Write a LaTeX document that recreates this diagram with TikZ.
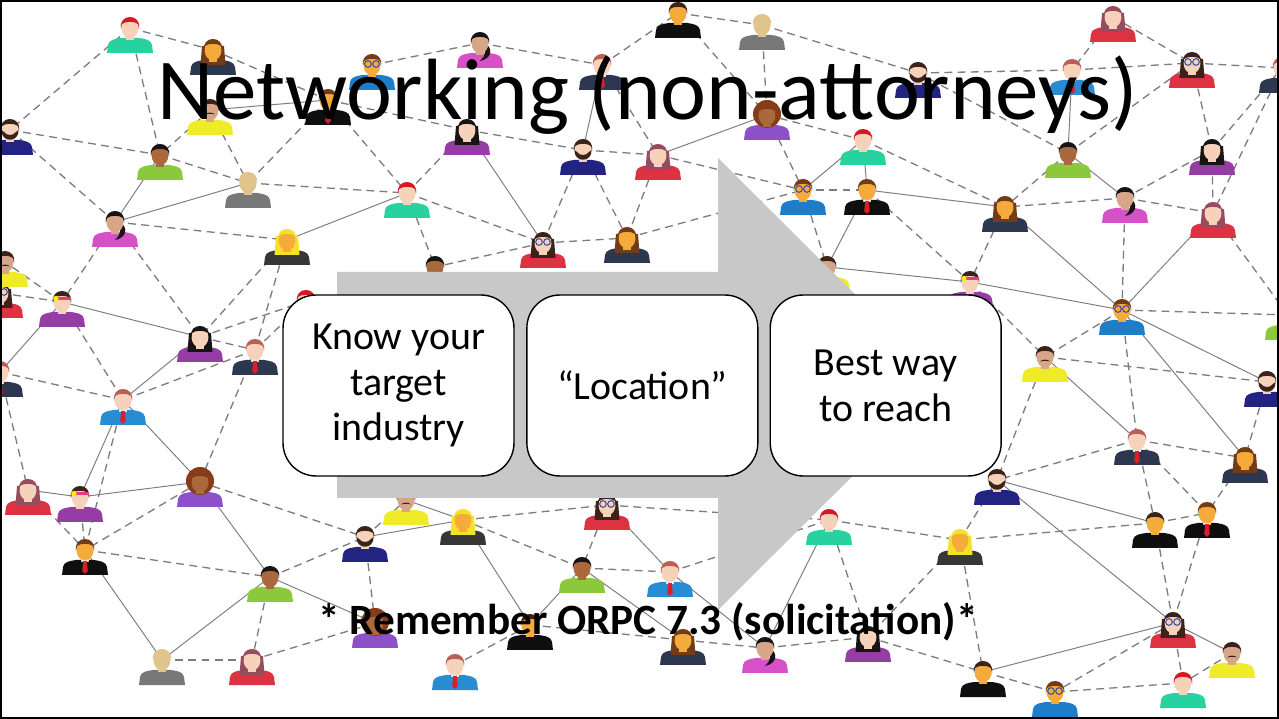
\documentclass[tikz,border=0pt]{standalone}
\usepackage{fontspec}
\setmainfont{Carlito}
\usetikzlibrary{positioning}

% colours
\definecolor{linkgray}{RGB}{125,125,125}
\definecolor{arrowfill}{RGB}{200,200,200}
\definecolor{hRed}{RGB}{215,25,35}
\definecolor{hBlack}{RGB}{25,20,20}
\definecolor{hDark}{RGB}{60,35,25}
\definecolor{hBrown}{RGB}{115,60,25}
\definecolor{hAuburn}{RGB}{185,95,85}
\definecolor{hMauve}{RGB}{150,75,95}
\definecolor{hBlond}{RGB}{245,225,40}
\definecolor{hCurly}{RGB}{135,60,25}
\definecolor{sPeach}{RGB}{245,210,185}
\definecolor{sTan}{RGB}{215,165,135}
\definecolor{sOrange}{RGB}{245,170,60}
\definecolor{sBrown}{RGB}{170,105,60}
\definecolor{sBald}{RGB}{225,195,140}
\definecolor{tTeal}{RGB}{40,210,160}
\definecolor{tPink}{RGB}{215,80,200}
\definecolor{tPurple}{RGB}{150,60,165}
\definecolor{tNavy}{RGB}{35,35,130}
\definecolor{tGreen}{RGB}{140,200,60}
\definecolor{tGray}{RGB}{120,120,120}
\definecolor{tBlue}{RGB}{30,125,200}
\definecolor{tSky}{RGB}{40,140,210}
\definecolor{tBlack}{RGB}{15,15,15}
\definecolor{tSlate}{RGB}{45,55,80}
\definecolor{tRed}{RGB}{220,50,65}
\definecolor{tVest}{RGB}{55,55,55}
\definecolor{tYellow}{RGB}{240,235,40}
\definecolor{tViolet}{RGB}{140,80,200}
\definecolor{tieRed}{RGB}{220,30,40}
\definecolor{specline}{RGB}{60,80,160}
\definecolor{bandPink}{RGB}{230,60,120}

% optional parts of a person (drawn in the icon frame, head centre at origin)
\newcommand\partnone{}
\newcommand\partlocks{\fill[\haircol] (-11,-4) -- (11,-4) -- (12.5,15) -- (-12.5,15) -- cycle;}
\newcommand\partcurls{\fill[\haircol] (0,-1) circle [radius=14];}
\newcommand\parttail{\fill[\haircol] (5,0) .. controls (14,6) and (11,16) .. (0,18) .. controls (6,12) and (7,7) .. (3,3) -- cycle;}
\newcommand\partbeard{\fill[\haircol] (-8.6,0) .. controls (-9,13) and (9,13) .. (8.6,0) -- (6,2) .. controls (3,6) and (-3,6) .. (-6,2) -- cycle;}
\newcommand\parttache{\fill[\haircol] (-5,4.5) .. controls (-3,2) and (3,2) .. (5,4.5) .. controls (2,3.6) and (-2,3.6) .. (-5,4.5) -- cycle;}
\newcommand\partspecs{\draw[specline, line width=0.6pt] (-4,-1) circle [radius=3.3] (4,-1) circle [radius=3.3];}
\newcommand\parttie{\fill[white] (-4,10) -- (0,14) -- (4,10) -- cycle;
  \fill[tieRed] (-1.8,11) -- (1.8,11) -- (2.8,21) -- (0,24) -- (-2.8,21) -- cycle;}
\newcommand\partband{\fill[bandPink] (-9,-5) rectangle (9,-2); \fill[yellow] (-6,-3.5) circle [radius=2.6];}

\tikzset{
  hair/.store in=\haircol, skin/.store in=\skincol, shirt/.store in=\shirtcol,
  backpart/.store in=\backkind, frontpart/.store in=\frontkind,
  hair=hBlack, skin=sPeach, shirt=tGray, backpart=none, frontpart=none,
  person/.pic={
    \fill[\shirtcol] (-23,25) -- (-22,17) .. controls (-21,12) and (-16,11) .. (-9,10)
      -- (9,10) .. controls (16,11) and (21,12) .. (22,17) -- (23,25) -- cycle;
    \csname part\backkind\endcsname
    \fill[\skincol] (-4,4) rectangle (4,12);
    \fill[\skincol] (0,0) ellipse [x radius=8.5, y radius=10.5];
    \fill[\haircol] (-9,1) .. controls (-12,-15) and (12,-15) .. (9,1)
      -- (8,-4) .. controls (4,-7) and (-4,-7) .. (-8,-4) -- cycle;
    \csname part\frontkind\endcsname
  },
  redhead/.style={hair=hRed, skin=sPeach, shirt=tTeal},
  ponytail/.style={hair=hBlack, skin=sTan, shirt=tPink, backpart=tail},
  lady/.style={hair=hBlack, skin=sPeach, shirt=tPurple, backpart=locks},
  bearded/.style={hair=hDark, skin=sPeach, shirt=tNavy, frontpart=beard},
  darkman/.style={hair=hBlack, skin=sBrown, shirt=tGreen},
  baldman/.style={hair=sBald, skin=sBald, shirt=tGray},
  nerd/.style={hair=hBrown, skin=sOrange, shirt=tBlue, frontpart=specs},
  boss/.style={hair=hBrown, skin=sOrange, shirt=tBlack, frontpart=tie},
  exec/.style={hair=hAuburn, skin=sPeach, shirt=tSlate, frontpart=tie},
  agent/.style={hair=hAuburn, skin=sPeach, shirt=tSky, frontpart=tie},
  tshirt/.style={hair=hDark, skin=sOrange, shirt=tBlack},
  longhair/.style={hair=hMauve, skin=sPeach, shirt=tRed, backpart=locks},
  brunette/.style={hair=hBrown, skin=sOrange, shirt=tSlate, backpart=locks},
  blonde/.style={hair=hBlond, skin=sOrange, shirt=tVest, backpart=locks},
  geekgirl/.style={hair=hDark, skin=sPeach, shirt=tRed, backpart=locks, frontpart=specs},
  tache/.style={hair=hDark, skin=sTan, shirt=tYellow, frontpart=tache},
  curly/.style={hair=hCurly, skin=sBrown, shirt=tViolet, backpart=curls},
  flower/.style={hair=hDark, skin=sPeach, shirt=tPurple, frontpart=band},
  link/.style={draw=linkgray, line width=0.75pt, dash pattern=on 4.5pt off 3pt},
  wire/.style={draw=linkgray, line width=0.55pt},
  stepbox/.style={draw, line width=0.8pt, fill=white, rounded corners=0.66cm,
    minimum width=4.62cm, minimum height=3.62cm, align=center,
    font=\fontsize{22.7}{26.1}\selectfont},
}

% the crowd: name/x/y/kind (pixels, y downwards)
\newcommand\crowd{%
p1/130/28/redhead, p2/213/50/brunette, p3/372/65/nerd, p4/328/100/boss,
p5/10/130/bearded, p6/160/155/darkman, p7/210/110/tache, p8/248/183/baldman,
p9/115/222/ponytail, p10/287/240/blonde, p11/407/193/redhead, p12/480/43/ponytail,
p13/602/65/exec, p14/678/13/tshirt, p15/762/25/baldman, p16/467/130/lady,
p17/583/150/bearded, p18/658/155/longhair, p19/767/115/curly, p20/543/243/geekgirl,
p21/627/238/brunette, p22/435/267/darkman, p23/863/140/redhead, p24/803/190/nerd,
p25/867/190/boss, p26/827/267/tache, p27/1113/17/longhair, p28/918/73/bearded,
p29/1072/70/agent, p30/1192/63/geekgirl, p31/1282/68/exec, p33/1068/153/darkman,
p34/1212/150/lady, p35/1005/207/brunette, p36/1125/198/ponytail, p37/1213/213/longhair,
p38/970/282/flower, p39/1122/310/nerd, p40/1288/315/darkman, p41/1045/357/tache,
p43/1267/382/bearded, p44/1137/440/exec, p45/1245/458/brunette, p46/997/480/bearded,
p47/1155/523/tshirt, p48/1207/513/boss, p49/1173/623/geekgirl, p50/1232/653/tache,
p51/1183/683/redhead, p52/1055/692/nerd, p53/983/672/tshirt, p54/406/500/tache,
p55/463/520/blonde, p56/607/505/geekgirl, p57/582/568/darkman, p58/670/572/agent,
p59/530/625/tshirt, p60/683/640/brunette, p61/765/648/ponytail, p62/868/637/lady,
p63/455/665/agent, p64/829/520/redhead, p65/960/540/blonde, p68/28/490/longhair,
p69/80/497/flower, p70/200/482/curly, p71/85/550/boss, p72/270/577/darkman,
p73/365/537/bearded, p74/162/660/baldman, p75/252/660/longhair, p76/375/623/curly,
p77/62/302/flower, p80/200/337/lady, p81/255/350/exec, p82/123/400/agent,
p83/0/293/geekgirl, p84/5/262/tache, p85/0/372/exec, p86/306/301/redhead}

\begin{document}
\begin{tikzpicture}[x=0.02cm, y=-0.02cm]
  \clip (0,0) rectangle (1279,719);
  \fill[white] (0,0) rectangle (1279,719);

  % network in the background
  \foreach \p/\x/\y/\kind in \crowd
    \coordinate (\p) at (\x,\y);

  \foreach \src/\dst in {p1/p2, p1/p5, p1/p6, p2/p4, p5/p6, p5/p9, p6/p8, p7/p8, p7/p6,
      p4/p8, p4/p11, p8/p11, p9/p10, p3/p12, p4/p16, p12/p13, p13/p14, p14/p15, p14/p19,
      p15/p19, p15/p28, p13/p18, p16/p17, p16/p11, p17/p18, p17/p20, p17/p21, p18/p21,
      p19/p24, p19/p23, p18/p24, p11/p20, p20/p21, p21/p24, p11/p22, p20/p22, p24/p25,
      p24/p26, p25/p38, p23/p35, p27/p30, p27/p29, p28/p29, p29/p30, p30/p31, p30/p34,
      p30/p33, p28/p33, p31/p37, p33/p35, p34/p36, p34/p37, p34/p31, p36/p35, p36/p37,
      p36/p39, p35/p38, p37/p40, p39/p40, p39/p41, p38/p41, p41/p46, p41/p43, p39/p44,
      p43/p45, p44/p45, p44/p46, p44/p47, p44/p48, p45/p48, p47/p48, p47/p65, p47/p49,
      p48/p49, p49/p51, p49/p52, p50/p51, p51/p52, p52/p53, p55/p56, p55/p57, p56/p57,
      p56/p64, p57/p58, p58/p64, p59/p63, p59/p60, p60/p61, p61/p62, p62/p53, p64/p65,
      p64/p62, p65/p62, p65/p53, p65/p46, p69/p71, p68/p71, p70/p71, p70/p73, p70/p81,
      p71/p72, p72/p75, p72/p73, p73/p76, p75/p76, p74/p75, p73/p54, p9/p77, p9/p80,
      p10/p80, p10/p81, p77/p82, p77/p84, p80/p81, p81/p82, p81/p86, p80/p86, p82/p85,
      p82/p71, p85/p68, p83/p77}
    \draw[link] (\src) -- (\dst);

  \foreach \src/\dst in {p6/p9, p9/p8, p10/p11, p7/p4, p13/p17, p16/p20, p18/p19,
      p23/p24, p23/p25, p25/p35, p25/p26, p26/p38, p29/p33, p33/p36, p37/p39, p35/p39,
      p38/p39, p41/p44, p39/p43, p39/p45, p46/p47, p46/p49, p49/p50, p49/p53, p55/p54,
      p55/p73, p55/p59, p56/p58, p57/p59, p57/p60, p58/p61, p64/p61, p68/p69, p69/p70,
      p70/p72, p71/p74, p72/p74, p72/p76, p77/p80, p77/p85, p80/p82, p82/p69, p82/p70}
    \draw[wire] (\src) -- (\dst);

  \foreach \p/\x/\y/\kind in \crowd
    \pic[\kind] at (\p) {person};

  % process arrow with its three steps
  \fill[arrowfill] (337,272) -- (718,272) -- (718,158) -- (945,384)
    -- (718,610) -- (718,498) -- (337,498) -- cycle;

  \node[stepbox] (know) at (398.5,385.5) {Know your\\target\\industry};
  \node[stepbox, right=0.23cm of know] (where) {“Location”};
  \node[stepbox, right=0.22cm of where] (reach) {Best way\\to reach};

  \node[anchor=base, font=\fontsize{49.5}{59}\selectfont] (title) at (647.5,120)
    {Networking (non-attorneys)};
  \node[anchor=base, font=\fontsize{24.6}{29}\selectfont\bfseries] (note) at (648,635)
    {* Remember ORPC 7.3 (solicitation)*};

  \draw[line width=1.6pt] (1,1) rectangle (1278,718);
\end{tikzpicture}
\end{document}
